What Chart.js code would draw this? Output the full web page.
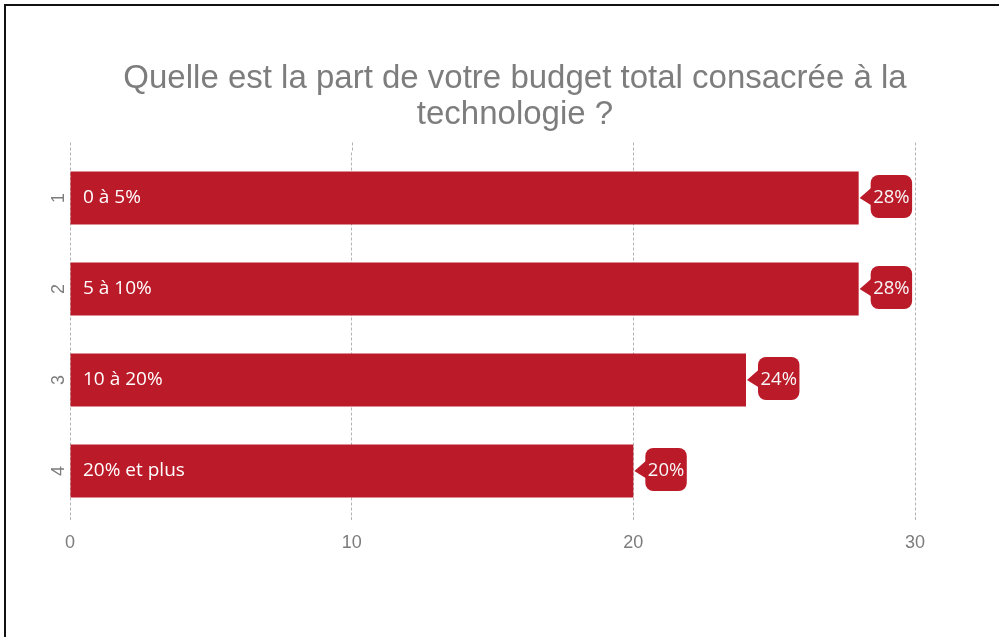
<!DOCTYPE html>
<html>
<head>
<meta charset="utf-8">
<script src="https://cdn.jsdelivr.net/npm/chart.js@4"></script>
<style>
  body { margin: 0; background: #fff; }
  #frame { position: absolute; left: 4px; top: 4px; width: 995px; height: 633px;
           border-top: 2px solid #111; border-left: 2px solid #111; }
  #wrap { position: absolute; left: 0; top: 0; width: 999px; height: 637px; }
</style>
</head>
<body>
<div id="frame"></div>
<div id="wrap"><canvas id="chart"></canvas></div>
<script>
const categories = ["1", "2", "3", "4"];
const answers = ["0 à 5%", "5 à 10%", "10 à 20%", "20% et plus"];
const values = [28, 28, 24, 20];
const xMin = 0, xMax = 30, xStep = 10;

const RED = "#bb1a28";
const GRID = "#b3b3b3";
const TICK = "#7c7c7c";

const barLabels = {
  id: "barLabels",
  beforeDatasetsDraw(chart) {
    // gridlines run a bit above the plot area in the original
    const { ctx, chartArea, scales: { x } } = chart;
    ctx.save();
    ctx.strokeStyle = GRID;
    ctx.lineWidth = 1;
    ctx.setLineDash([3, 2]);
    x.ticks.forEach(t => {
      const px = Math.round(x.getPixelForValue(t.value)) + 0.5;
      ctx.beginPath();
      ctx.moveTo(px, chartArea.top - 10);
      ctx.lineTo(px, chartArea.top);
      ctx.stroke();
    });
    ctx.restore();
  },
  afterDatasetsDraw(chart) {
    const { ctx, scales: { x } } = chart;
    const meta = chart.getDatasetMeta(0);
    ctx.save();
    ctx.textBaseline = "middle";
    meta.data.forEach((bar, i) => {
      // answer text inside the bar
      ctx.font = '19px "Open Sans"';
      ctx.fillStyle = "#ffffff";
      ctx.textAlign = "left";
      ctx.fillText(answers[i], x.getPixelForValue(0) + 13, bar.y);

      // value callout
      ctx.font = '18.5px "Open Sans"';
      const txt = values[i] + "%";
      const w = ctx.measureText(txt).width + 5;
      const h = 43;
      const x0 = bar.x + 12;
      const yc = bar.y - 1.5;
      ctx.fillStyle = RED;
      ctx.beginPath();
      ctx.moveTo(bar.x + 1, bar.y);
      ctx.lineTo(x0 + 1, yc - 9);
      ctx.lineTo(x0 + 1, yc + 9);
      ctx.closePath();
      ctx.fill();
      ctx.beginPath();
      ctx.roundRect(x0, yc - h / 2, w, h, 8);
      ctx.fill();
      ctx.fillStyle = "#f7f7f7";
      ctx.textAlign = "center";
      ctx.fillText(txt, x0 + w / 2, yc + 1);
    });
    ctx.restore();
  }
};

new Chart(document.getElementById("chart").getContext("2d"), {
  type: "bar",
  data: {
    labels: categories,
    datasets: [{
      data: values,
      backgroundColor: RED,
      borderWidth: 0,
      categoryPercentage: 1,
      barPercentage: 0.58,
      yAxisID: "y"
    }]
  },
  options: {
    indexAxis: "y",
    responsive: true,
    maintainAspectRatio: false,
    animation: false,
    layout: { padding: { left: 31, right: 0, top: 0, bottom: 0 } },
    plugins: {
      legend: { display: false },
      tooltip: { enabled: false },
      title: {
        display: true,
        text: ["Quelle est la part de votre budget total consacrée à la", "technologie ?"],
        color: "#7d7d7d",
        font: { family: '"Liberation Sans", Arial, sans-serif', size: 33, weight: "normal", lineHeight: 36 / 33 },
        padding: { top: 61, bottom: 19.5 }
      }
    },
    scales: {
      x: {
        min: xMin,
        max: xMax,
        ticks: {
          stepSize: xStep,
          color: TICK,
          padding: 11,
          font: { family: '"Liberation Sans", Arial, sans-serif', size: 18 }
        },
        grid: { color: GRID, tickColor: GRID, tickLength: 5, tickBorderDash: [3, 2] },
        border: { display: false, dash: [3, 2] },
        afterFit: s => { s.height = 120.5; }
      },
      y: {
        position: "left",
        grid: { display: false },
        border: { display: false },
        ticks: {
          color: TICK,
          minRotation: 90,
          maxRotation: 90,
          crossAlign: "center",
          padding: -2,
          font: { family: '"Liberation Sans", Arial, sans-serif', size: 18 }
        },
        afterFit: s => { s.width = 39; }
      },
      yR: {
        type: "category",
        labels: categories,
        position: "right",
        grid: { display: false },
        border: { display: false },
        ticks: { display: false },
        afterFit: s => { s.width = 84; }
      }
    }
  },
  plugins: [barLabels]
});
</script>
</body>
</html>
